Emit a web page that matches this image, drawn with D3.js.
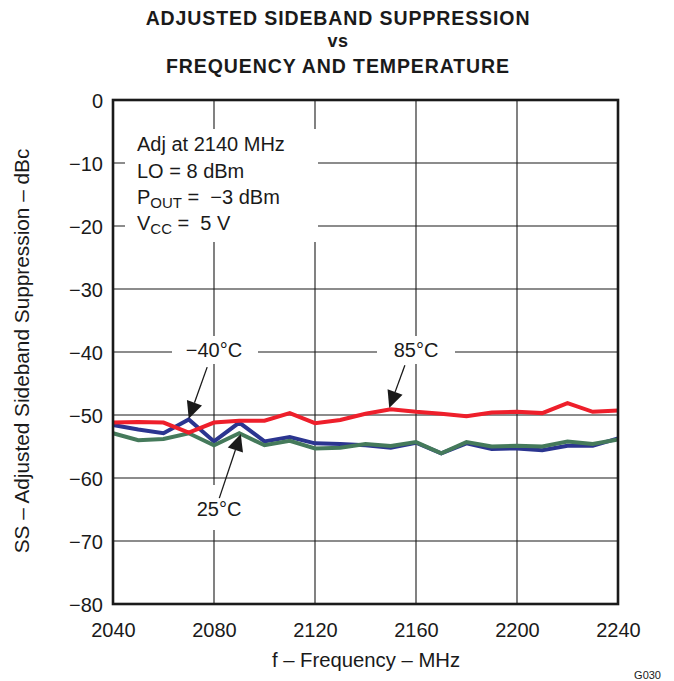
<!DOCTYPE html>
<html>
<head>
<meta charset="utf-8">
<script src="https://cdn.jsdelivr.net/npm/d3@7"></script>
<style>
  html, body { margin: 0; padding: 0; background: #fff; }
  svg { display: block; }
  text { font-family: "Liberation Sans", Arial, Helvetica, sans-serif; fill: #1a1a1a; }
</style>
</head>
<body>
<svg id="chart" width="674" height="681"></svg>
<script>
// ---- data ----
const freq = [2040, 2050, 2060, 2070, 2080, 2090, 2100, 2110, 2120, 2130, 2140,
              2150, 2160, 2170, 2180, 2190, 2200, 2210, 2220, 2230, 2240];
const ss85 = [-51.2, -51.1, -51.2, -52.8, -51.2, -50.9, -50.9, -49.7, -51.3, -50.8, -49.8,
              -49.1, -49.5, -49.8, -50.2, -49.6, -49.5, -49.7, -48.1, -49.5, -49.3];
const ssM40 = [-51.6, -52.3, -52.9, -50.7, -54.2, -51.2, -54.2, -53.5, -54.5, -54.6, -54.8,
               -55.2, -54.4, -56.1, -54.5, -55.4, -55.3, -55.6, -54.9, -54.9, -53.7];
const ss25 = [-52.9, -54.0, -53.8, -52.9, -54.8, -52.9, -54.8, -54.1, -55.3, -55.2, -54.6,
              -54.9, -54.3, -56.1, -54.3, -55.0, -54.9, -55.0, -54.2, -54.6, -53.9];
const xTicks = [2040, 2080, 2120, 2160, 2200, 2240];
const yTicks = [0, -10, -20, -30, -40, -50, -60, -70, -80];
const titleLines = ["ADJUSTED SIDEBAND SUPPRESSION", "vs", "FREQUENCY AND TEMPERATURE"];
const seriesNames = ["−40°C", "25°C", "85°C"];

// ---- layout ----
const svg = d3.select("#chart");
const L = 113, T = 100, R = 618, B = 604;
const x = d3.scaleLinear().domain([2040, 2240]).range([L, R]);
const y = d3.scaleLinear().domain([-80, 0]).range([B, T]);
const ink = "#1a1a1a";

// title
const tY = [25, 47, 73];
titleLines.forEach((t, i) => {
  svg.append("text")
    .attr("x", 338).attr("y", tY[i])
    .attr("text-anchor", "middle")
    .attr("font-size", i === 1 ? 18 : 19.5)
    .attr("font-weight", "bold")
    .attr("letter-spacing", i === 1 ? 0.5 : 0.9)
    .text(t);
});

// gridlines
const g = svg.append("g");
g.selectAll(".vg").data(xTicks.slice(1, -1)).enter().append("line")
  .attr("x1", d => x(d)).attr("x2", d => x(d))
  .attr("y1", T).attr("y2", B)
  .attr("stroke", ink).attr("stroke-width", 1.1);
g.selectAll(".hg").data(yTicks.slice(1, -1)).enter().append("line")
  .attr("x1", L).attr("x2", R)
  .attr("y1", d => y(d)).attr("y2", d => y(d))
  .attr("stroke", ink).attr("stroke-width", 1.1);

// axes (tick labels only)
const xAxis = d3.axisBottom(x).tickValues(xTicks).tickSize(0).tickPadding(0).tickFormat(d3.format("d"));
const xa = svg.append("g").attr("transform", `translate(0,${B + 33})`).call(xAxis);
xa.select(".domain").remove();
xa.selectAll("text").attr("font-size", 20).attr("dy", 0).attr("fill", ink);

const yAxis = d3.axisLeft(y).tickValues(yTicks).tickSize(0).tickPadding(0)
  .tickFormat(d => d === 0 ? "0" : "−" + Math.abs(d));
const ya = svg.append("g").attr("transform", `translate(${L - 10},0)`).call(yAxis);
ya.select(".domain").remove();
ya.selectAll("text").attr("font-size", 20).attr("dy", "0.36em").attr("fill", ink);

// axis titles
svg.append("text")
  .attr("x", 366).attr("y", 667)
  .attr("text-anchor", "middle").attr("font-size", 20.3)
  .text("f – Frequency – MHz");
svg.append("text")
  .attr("transform", "translate(29,351) rotate(-90)")
  .attr("text-anchor", "middle").attr("font-size", 20.8)
  .text("SS – Adjusted Sideband Suppression – dBc");
svg.append("text")
  .attr("x", 661).attr("y", 679)
  .attr("text-anchor", "end").attr("font-size", 11)
  .text("G030");

// white boxes behind annotations
const boxes = [
  [125, 129, 193, 113],
  [172, 336, 86, 28],
  [377, 336, 78, 28],
  [192, 485, 54, 45]
];
svg.selectAll(".wb").data(boxes).enter().append("rect")
  .attr("x", d => d[0]).attr("y", d => d[1]).attr("width", d => d[2]).attr("height", d => d[3])
  .attr("fill", "#fff");

// condition text block
const cond = svg.append("g").attr("font-size", 20);
cond.append("text").attr("x", 137).attr("y", 151).text("Adj at 2140 MHz");
cond.append("text").attr("x", 137).attr("y", 177.5).text("LO = 8 dBm");
const p = cond.append("text").attr("x", 137).attr("y", 204);
p.append("tspan").text("P");
p.append("tspan").attr("font-size", 15).attr("dy", 4).text("OUT");
p.append("tspan").attr("dy", -4).text(" =\u00a0 −3 dBm");
const v = cond.append("text").attr("x", 137).attr("y", 230);
v.append("tspan").text("V");
v.append("tspan").attr("font-size", 15).attr("dy", 4).text("CC");
v.append("tspan").attr("dy", -4).text(" =\u00a0 5 V");

// series
const line = d3.line().x((d, i) => x(freq[i])).y(d => y(d));
const series = [
  { vals: ssM40, color: "#2b3590" },
  { vals: ss25, color: "#457a5b" },
  { vals: ss85, color: "#ee1f2b" }
];
svg.selectAll(".series").data(series).enter().append("path")
  .attr("d", d => line(d.vals))
  .attr("fill", "none")
  .attr("stroke", d => d.color)
  .attr("stroke-width", 4)
  .attr("stroke-linejoin", "miter");

// series labels with arrows (positions in data units)
const labels = [
  { text: seriesNames[0], fx: 2080, fy: -40, tail: [2077.3, -42.4], tip: [2070, -50.6] },
  { text: seriesNames[2], fx: 2160, fy: -40, tail: [2155.6, -42.1], tip: [2149.4, -48.9] },
  { text: seriesNames[1], fx: 2082, fy: -65.3, tail: [2082.1, -63.2], tip: [2090.6, -53.0] }
];
labels.forEach(l => {
  svg.append("text")
    .attr("x", x(l.fx)).attr("y", y(l.fy) + 5)
    .attr("text-anchor", "middle").attr("font-size", 20)
    .text(l.text);
  const x0 = x(l.tail[0]), y0 = y(l.tail[1]), x1 = x(l.tip[0]), y1 = y(l.tip[1]);
  const dx = x1 - x0, dy = y1 - y0, len = Math.hypot(dx, dy);
  const ux = dx / len, uy = dy / len, px = -uy, py = ux;
  const hl = 17, hw = 8;
  const bx = x1 - ux * hl, by = y1 - uy * hl;
  svg.append("line")
    .attr("x1", x0).attr("y1", y0).attr("x2", bx).attr("y2", by)
    .attr("stroke", ink).attr("stroke-width", 1.3);
  svg.append("path")
    .attr("d", `M${x1},${y1}L${bx + px * hw},${by + py * hw}L${bx - px * hw},${by - py * hw}Z`)
    .attr("fill", ink);
});

// plot border
svg.append("rect")
  .attr("x", L).attr("y", T).attr("width", R - L).attr("height", B - T)
  .attr("fill", "none").attr("stroke", ink).attr("stroke-width", 2.6);
</script>
</body>
</html>
